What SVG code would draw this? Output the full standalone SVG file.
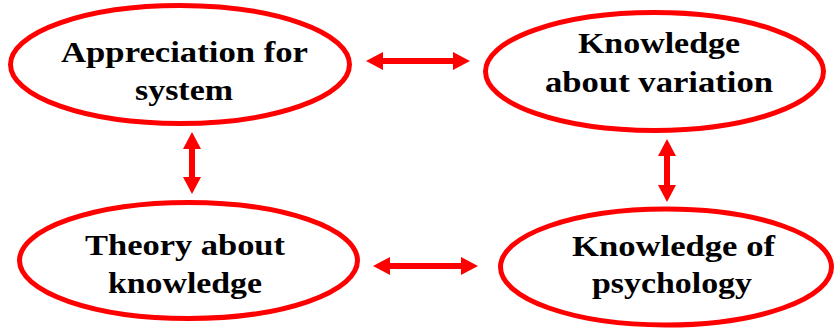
<svg xmlns="http://www.w3.org/2000/svg" width="835" height="333" viewBox="0 0 835 333">
<style>
.node ellipse{fill:#fff;stroke:#ff0000;stroke-width:5}
.node text{font-family:'Liberation Serif','Times New Roman',serif;font-weight:700;font-size:30px;fill:#000;text-anchor:middle}
.arr{fill:#ff0000}
</style>
<rect width="835" height="333" fill="#fff"/>
<g id="n1" class="node">
<ellipse cx="180" cy="64.5" rx="169.5" ry="59"/>
<text x="184.5" y="62" textLength="247" lengthAdjust="spacingAndGlyphs">Appreciation for</text>
<text x="184" y="100" textLength="98" lengthAdjust="spacingAndGlyphs">system</text>
</g>
<g id="n2" class="node">
<ellipse cx="654.5" cy="71.5" rx="169" ry="59"/>
<text x="659" y="53" textLength="162" lengthAdjust="spacingAndGlyphs">Knowledge</text>
<text x="659" y="92" textLength="228" lengthAdjust="spacingAndGlyphs">about variation</text>
</g>
<g id="n3" class="node">
<ellipse cx="188.5" cy="260.5" rx="169" ry="58"/>
<text x="185" y="255" textLength="200" lengthAdjust="spacingAndGlyphs">Theory about</text>
<text x="185" y="293" textLength="154" lengthAdjust="spacingAndGlyphs">knowledge</text>
</g>
<g id="n4" class="node">
<ellipse cx="666" cy="267" rx="165.5" ry="58"/>
<text x="673.5" y="256" textLength="203" lengthAdjust="spacingAndGlyphs">Knowledge of</text>
<text x="672" y="293" textLength="160" lengthAdjust="spacingAndGlyphs">psychology</text>
</g>
<g id="connectors">
<polygon class="arr" points="366,61 383,52 383,58 453,58 453,52 470,61 453,70 453,64 383,64 383,70"/>
<polygon class="arr" points="373,266 390,257 390,263 461,263 461,257 478,266 461,275 461,269 390,269 390,275"/>
<polygon class="arr" points="192,132 201,149 195,149 195,177 201,177 192,194 183,177 189,177 189,149 183,149"/>
<polygon class="arr" points="667,139 676,156 670,156 670,185 676,185 667,202 658,185 664,185 664,156 658,156"/>
</g>
</svg>
